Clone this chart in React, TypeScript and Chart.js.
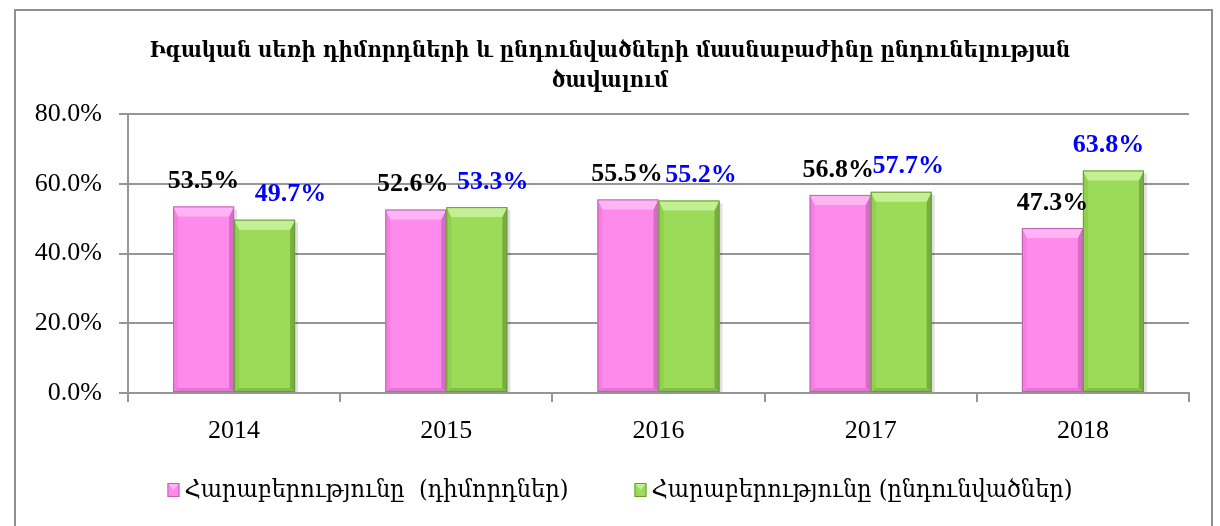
import React, { useEffect, useRef } from "react";
import { Chart, registerables } from "chart.js";

Chart.register(...registerables);

const categories = ["2014", "2015", "2016", "2017", "2018"];
const applicantsShare = [53.5, 52.6, 55.5, 56.8, 47.3];
const admittedShare = [49.7, 53.3, 55.2, 57.7, 63.8];
const seriesNames = ["Հարաբերությունը  (դիմորդներ)", "Հարաբերությունը (ընդունվածներ)"];
const titleLines = [
  "Իգական սեռի դիմորդների և ընդունվածների մասնաբաժինը ընդունելության",
  "ծավալում",
];
const yMin = 0;
const yMax = 80;
const yStep = 20;

const ARM_FONT = '"DejaVu Serif Condensed", "DejaVu Serif", serif';
const NUM_FONT = '"Liberation Serif", "DejaVu Serif", serif';
const GRID = "#969696";

const palettes = [
  { main: "#FF8AEB", top: "#FFB5F5", left: "#F47EE2", right: "#D66CC6", bottom: "#E277D2", line: "#C062B0" },
  { main: "#9BDB57", top: "#C4F094", left: "#90CF4F", right: "#78AE3F", bottom: "#84BD48", line: "#6A9A38" },
];
const labelColors = ["#000000", "#0000FF"];
const labelShiftX = [
  [0, -3, -1, -2, 0],
  [26, 16, 12, 7, -5],
];

function poly(ctx: CanvasRenderingContext2D, pts: number[][], color: string) {
  ctx.beginPath();
  ctx.moveTo(pts[0][0], pts[0][1]);
  for (let i = 1; i < pts.length; i++) ctx.lineTo(pts[i][0], pts[i][1]);
  ctx.closePath();
  ctx.fillStyle = color;
  ctx.fill();
}

const shadowPlugin = {
  id: "barShadow",
  beforeDatasetsDraw(chart: any) {
    const ctx: CanvasRenderingContext2D = chart.ctx;
    ctx.save();
    ctx.fillStyle = "rgba(0,0,0,0.12)";
    chart.data.datasets.forEach((_ds: any, di: number) => {
      const meta = chart.getDatasetMeta(di);
      meta.data.forEach((bar: any) => {
        const { x, y, base, width } = bar.getProps(["x", "y", "base", "width"], true);
        ctx.fillRect(x - width / 2 + 3, y + 3, width, base - y - 3);
      });
    });
    ctx.restore();
  },
};

const bevelPlugin = {
  id: "bevel",
  afterDatasetsDraw(chart: any) {
    const ctx: CanvasRenderingContext2D = chart.ctx;
    ctx.save();
    chart.data.datasets.forEach((_ds: any, di: number) => {
      const meta = chart.getDatasetMeta(di);
      const p = palettes[di];
      meta.data.forEach((bar: any) => {
        const { x, y, base, width } = bar.getProps(["x", "y", "base", "width"], true);
        const x0 = x - width / 2;
        const x1 = x + width / 2;
        const y0 = y;
        const y1 = base;
        const b = Math.min(10, (y1 - y0) / 3);
        const s = 5;
        const bb = 4;
        poly(ctx, [[x0, y0], [x0 + s, y0 + b], [x0 + s, y1 - bb], [x0, y1]], p.left);
        poly(ctx, [[x1, y0], [x1, y1], [x1 - s, y1 - bb], [x1 - s, y0 + b]], p.right);
        poly(ctx, [[x0, y1], [x0 + s, y1 - bb], [x1 - s, y1 - bb], [x1, y1]], p.bottom);
        poly(ctx, [[x0, y0], [x1, y0], [x1 - s, y0 + b], [x0 + s, y0 + b]], p.top);
        ctx.strokeStyle = p.line;
        ctx.lineWidth = 1;
        ctx.strokeRect(x0 + 0.5, y0 + 0.5, width - 1, y1 - y0 - 1);
      });
    });
    ctx.restore();
  },
};

const valueLabelPlugin = {
  id: "valueLabels",
  afterDatasetsDraw(chart: any) {
    const ctx: CanvasRenderingContext2D = chart.ctx;
    ctx.save();
    ctx.font = `bold 26px ${NUM_FONT}`;
    ctx.textAlign = "center";
    ctx.textBaseline = "middle";
    chart.data.datasets.forEach((ds: any, di: number) => {
      const meta = chart.getDatasetMeta(di);
      ctx.fillStyle = labelColors[di];
      meta.data.forEach((bar: any, i: number) => {
        const { x, y } = bar.getProps(["x", "y"], true);
        ctx.fillText(ds.data[i].toFixed(1) + "%", x + labelShiftX[di][i], y - 25);
      });
    });
    ctx.restore();
  },
};

const customLegendPlugin = {
  id: "customLegend",
  afterDraw(chart: any) {
    const ctx: CanvasRenderingContext2D = chart.ctx;
    ctx.save();
    ctx.font = `25px ${ARM_FONT}`;
    ctx.textBaseline = "middle";
    const box = 12;
    const boxGap = 5;
    const itemGap = 66;
    const texts = chart.data.datasets.map((d: any) => d.label as string);
    const widths = texts.map((t: string) => box + boxGap + ctx.measureText(t).width);
    const total = widths.reduce((a: number, b: number) => a + b, 0) + itemGap * (texts.length - 1);
    let cx = chart.width / 2 + 10 - total / 2;
    const cy = 490;
    texts.forEach((t: string, i: number) => {
      const p = palettes[i];
      ctx.fillStyle = p.main;
      ctx.fillRect(cx, cy - 7, box, 14);
      poly(ctx, [[cx, cy - 7], [cx + box, cy - 7], [cx + box / 2, cy]], p.top);
      ctx.strokeStyle = p.line;
      ctx.lineWidth = 1;
      ctx.strokeRect(cx + 0.5, cy - 6.5, box - 1, 13);
      ctx.fillStyle = "#000";
      ctx.fillText(t, cx + box + boxGap, cy);
      cx += widths[i] + itemGap;
    });
    ctx.restore();
  },
};

export default function App() {
  const ref = useRef<HTMLCanvasElement>(null);
  useEffect(() => {
    const chart = new Chart(ref.current!, {
      type: "bar",
      data: {
        labels: categories,
        datasets: [
          {
            label: seriesNames[0],
            data: applicantsShare,
            backgroundColor: palettes[0].main,
            borderWidth: 0,
            categoryPercentage: 0.575,
            barPercentage: 1,
          },
          {
            label: seriesNames[1],
            data: admittedShare,
            backgroundColor: palettes[1].main,
            borderWidth: 0,
            categoryPercentage: 0.575,
            barPercentage: 1,
          },
        ],
      },
      options: {
        responsive: false,
        animation: false,
        devicePixelRatio: 1,
        layout: { padding: { left: 31, right: 31, top: 0, bottom: 0 } },
        plugins: {
          legend: { display: false },
          tooltip: { enabled: false },
          title: {
            display: true,
            text: titleLines,
            color: "#000",
            font: { family: ARM_FONT, size: 22, weight: "bold", lineHeight: 30 / 22 },
            padding: { top: 36, bottom: 18 },
          },
        },
        scales: {
          x: {
            grid: {
              offset: true,
              drawOnChartArea: false,
              drawTicks: true,
              tickLength: 9,
              color: GRID,
              lineWidth: 2,
            },
            border: { display: true, color: GRID, width: 2 },
            ticks: { color: "#000", font: { family: NUM_FONT, size: 26 }, padding: 14 },
            afterFit(scale: any) {
              scale.height = 133;
            },
          },
          y: {
            min: yMin,
            max: yMax,
            ticks: {
              stepSize: yStep,
              color: "#000",
              font: { family: NUM_FONT, size: 26 },
              padding: 17,
              callback: (v: any) => Number(v).toFixed(1) + "%",
            },
            grid: { color: GRID, lineWidth: 2, tickLength: 9, drawTicks: true },
            border: { display: true, color: GRID, width: 2 },
            afterFit(scale: any) {
              scale.width = 97;
            },
          },
        },
      },
      plugins: [shadowPlugin, bevelPlugin, valueLabelPlugin, customLegendPlugin],
    } as any);
    return () => chart.destroy();
  }, []);
  return (
    <div
      style={{
        position: "fixed",
        left: 0,
        top: 0,
        width: 1220,
        height: 526,
        overflow: "hidden",
        background: "#fff",
      }}
    >
      <div
        style={{
          position: "absolute",
          left: 14,
          top: 9,
          width: 1199,
          height: 580,
          border: "2px solid #8f8f8f",
          boxSizing: "border-box",
        }}
      />
      <canvas
        ref={ref}
        width={1220}
        height={526}
        style={{ position: "absolute", left: 0, top: 0, width: 1220, height: 526 }}
      />
    </div>
  );
}
